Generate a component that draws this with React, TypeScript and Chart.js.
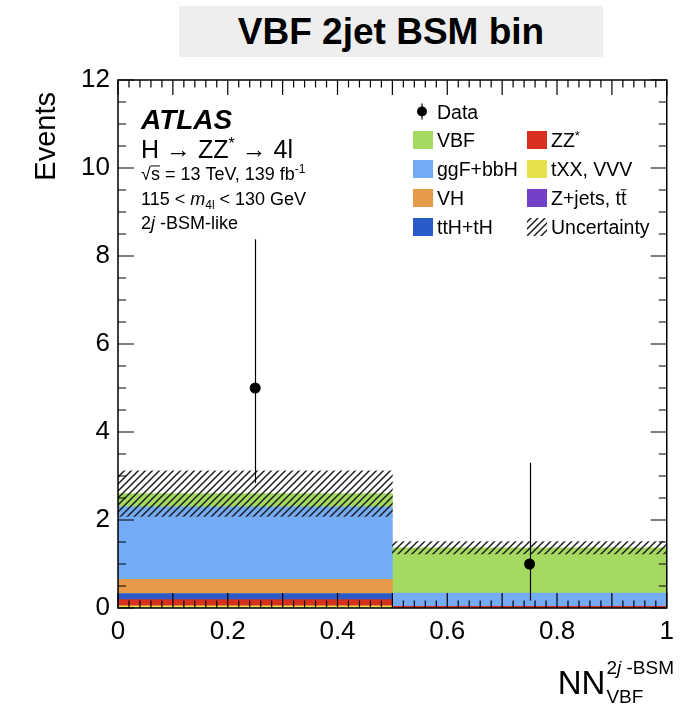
import React, { useEffect, useRef } from 'react';
import { Chart, registerables } from 'chart.js';

Chart.register(...registerables);

const FONT = "'Liberation Sans', Arial, Helvetica, sans-serif";

// Two bins of the NN output
const binLabels = ['0-0.5', '0.5-1'];
const binCenters = [0.25, 0.75];

// Expected yields per bin, listed from the bottom of the stack upwards
const zjetsYield = [0.0, 0.0];
const txxYield = [0.05, 0.0];
const zzYield = [0.14, 0.04];
const tthYield = [0.14, 0.0];
const vhYield = [0.32, 0.0];
const ggfYield = [1.65, 0.3];
const vbfYield = [0.3, 1.03];
// Total uncertainty on the expectation
const totalUnc = [0.52, 0.14];

// Observed events and their Poisson intervals
const dataCounts = [5, 1];
const dataLow = [2.84, 0.17];
const dataHigh = [8.38, 3.3];

// Axis ranges and label steps
const xRange = [0, 1];
const yRange = [0, 12];
const xLabelStep = 0.2;
const yLabelStep = 2;

const COLORS = {
  zjets: '#7440c8',
  txx: '#e6e24a',
  zz: '#d7301f',
  tth: '#2a5bc9',
  vh: '#e59b49',
  ggf: '#73abf5',
  vbf: '#a3da5f',
};

type Seg = { t: string; size: number; style?: string; dy?: number; over?: boolean };

function drawRich(ctx: CanvasRenderingContext2D, x: number, y: number, segs: Seg[]) {
  let cx = x;
  for (const s of segs) {
    ctx.font = `${s.style ?? ''} ${s.size}px ${FONT}`;
    const yy = y + (s.dy ?? 0);
    ctx.fillText(s.t, cx, yy);
    const w = ctx.measureText(s.t).width;
    if (s.over) {
      ctx.save();
      ctx.lineWidth = 1;
      ctx.beginPath();
      ctx.moveTo(cx, yy - s.size * 0.78);
      ctx.lineTo(cx + w, yy - s.size * 0.78);
      ctx.stroke();
      ctx.restore();
    }
    cx += w;
  }
  return cx;
}

function makeHatch(): CanvasPattern | string {
  const size = 7;
  const c = document.createElement('canvas');
  c.width = size;
  c.height = size;
  const g = c.getContext('2d');
  if (!g) return '#555';
  g.strokeStyle = '#1e1e1e';
  g.lineWidth = 1.5;
  g.beginPath();
  g.moveTo(0, size);
  g.lineTo(size, 0);
  g.moveTo(-1, 1);
  g.lineTo(1, -1);
  g.moveTo(size - 1, size + 1);
  g.lineTo(size + 1, size - 1);
  g.stroke();
  return g.createPattern(c, 'repeat') ?? '#555';
}

export default function App() {
  const ref = useRef<HTMLCanvasElement>(null);

  useEffect(() => {
    const canvas = ref.current;
    if (!canvas) return;
    const hatch = makeHatch();

    const stack = [
      { label: 'Z+jets, tt', data: zjetsYield, color: COLORS.zjets },
      { label: 'tXX, VVV', data: txxYield, color: COLORS.txx },
      { label: 'ZZ*', data: zzYield, color: COLORS.zz },
      { label: 'ttH+tH', data: tthYield, color: COLORS.tth },
      { label: 'VH', data: vhYield, color: COLORS.vh },
      { label: 'ggF+bbH', data: ggfYield, color: COLORS.ggf },
      { label: 'VBF', data: vbfYield, color: COLORS.vbf },
    ];
    const totals = binCenters.map((_, i) => stack.reduce((s, d) => s + d.data[i], 0));

    const decor = {
      id: 'atlasDecor',
      afterDatasetsDraw(chart: Chart) {
        const ctx = chart.ctx;
        const xs = chart.scales.x;
        const ys = chart.scales.y;
        const { left, right, top, bottom } = chart.chartArea;
        ctx.save();
        // error bars on the observed points
        ctx.strokeStyle = '#000';
        ctx.lineWidth = 1.2;
        binCenters.forEach((c, i) => {
          const px = Math.round(xs.getPixelForValue(c)) + 0.5;
          ctx.beginPath();
          ctx.moveTo(px, ys.getPixelForValue(dataLow[i]));
          ctx.lineTo(px, ys.getPixelForValue(dataHigh[i]));
          ctx.stroke();
        });
        // frame
        ctx.lineWidth = 1.5;
        ctx.strokeRect(left, top, right - left, bottom - top);
        // inward tick marks on all four sides
        ctx.lineWidth = 1.2;
        ctx.beginPath();
        for (let k = 0; k <= 50; k++) {
          const v = k / 50;
          const px = xs.getPixelForValue(v);
          const len = k % 5 === 0 ? 15 : 7.5;
          ctx.moveTo(px, bottom);
          ctx.lineTo(px, bottom - len);
          ctx.moveTo(px, top);
          ctx.lineTo(px, top + len);
        }
        for (let k = 0; k <= 24; k++) {
          const v = k * 0.5;
          const py = ys.getPixelForValue(v);
          const len = k % 4 === 0 ? 16 : 8;
          ctx.moveTo(left, py);
          ctx.lineTo(left + len, py);
          ctx.moveTo(right, py);
          ctx.lineTo(right - len, py);
        }
        ctx.stroke();
        ctx.restore();
      },
      afterDraw(chart: Chart) {
        const ctx = chart.ctx;
        const { left, right, top, bottom } = chart.chartArea;
        ctx.save();
        ctx.fillStyle = '#000';
        ctx.strokeStyle = '#000';
        ctx.textBaseline = 'alphabetic';
        ctx.textAlign = 'left';

        // experiment label block
        const tx = left + 23;
        drawRich(ctx, tx, top + 49, [{ t: 'ATLAS', size: 28, style: 'italic bold' }]);
        drawRich(ctx, tx, top + 78, [
          { t: 'H \u2192 ZZ', size: 25 },
          { t: '*', size: 16, dy: -9 },
          { t: ' \u2192 4l', size: 25 },
        ]);
        drawRich(ctx, tx, top + 100, [
          { t: '\u221A', size: 18 },
          { t: 's', size: 18, over: true },
          { t: ' = 13 TeV, 139 fb', size: 18 },
          { t: '-1', size: 12, dy: -7 },
        ]);
        drawRich(ctx, tx, top + 125, [
          { t: '115 < ', size: 18 },
          { t: 'm', size: 18, style: 'italic' },
          { t: '4l', size: 12, dy: 4 },
          { t: ' < 130 GeV', size: 18 },
        ]);
        drawRich(ctx, tx, top + 149, [
          { t: '2', size: 18 },
          { t: 'j', size: 18, style: 'italic' },
          { t: ' -BSM-like', size: 18 },
        ]);

        // legend
        const lfs = 19.5;
        const c1 = 413;
        const c2 = 527;
        const rowY = [111.5, 140, 169, 198, 227];
        // data entry
        ctx.lineWidth = 1.2;
        ctx.beginPath();
        ctx.moveTo(c1 + 9, rowY[0] - 8);
        ctx.lineTo(c1 + 9, rowY[0] + 8);
        ctx.stroke();
        ctx.beginPath();
        ctx.arc(c1 + 9, rowY[0], 5, 0, Math.PI * 2);
        ctx.fill();
        drawRich(ctx, c1 + 24, rowY[0] + 7, [{ t: 'Data', size: lfs }]);

        const box = (x: number, y: number, fill: string | CanvasPattern) => {
          ctx.fillStyle = fill;
          ctx.fillRect(x, y - 9, 20, 18);
          ctx.fillStyle = '#000';
        };
        box(c1, rowY[1], COLORS.vbf);
        drawRich(ctx, c1 + 24, rowY[1] + 7, [{ t: 'VBF', size: lfs }]);
        box(c1, rowY[2], COLORS.ggf);
        drawRich(ctx, c1 + 24, rowY[2] + 7, [{ t: 'ggF+bbH', size: lfs }]);
        box(c1, rowY[3], COLORS.vh);
        drawRich(ctx, c1 + 24, rowY[3] + 7, [{ t: 'VH', size: lfs }]);
        box(c1, rowY[4], COLORS.tth);
        drawRich(ctx, c1 + 24, rowY[4] + 7, [{ t: 'ttH+tH', size: lfs }]);

        box(c2, rowY[1], COLORS.zz);
        drawRich(ctx, c2 + 24, rowY[1] + 7, [
          { t: 'ZZ', size: lfs },
          { t: '*', size: 13, dy: -7 },
        ]);
        box(c2, rowY[2], COLORS.txx);
        drawRich(ctx, c2 + 24, rowY[2] + 7, [{ t: 'tXX, VVV', size: lfs }]);
        box(c2, rowY[3], COLORS.zjets);
        drawRich(ctx, c2 + 24, rowY[3] + 7, [
          { t: 'Z+jets, t', size: lfs },
          { t: 't', size: lfs, over: true },
        ]);
        box(c2, rowY[4], hatch);
        drawRich(ctx, c2 + 24, rowY[4] + 7, [{ t: 'Uncertainty', size: lfs }]);

        // y axis title
        ctx.save();
        ctx.translate(55, top + 12);
        ctx.rotate(-Math.PI / 2);
        ctx.textAlign = 'right';
        ctx.font = `29px ${FONT}`;
        ctx.fillText('Events', 0, 0);
        ctx.restore();

        // x axis title
        ctx.font = `33px ${FONT}`;
        const nnW = ctx.measureText('NN').width;
        const nx = right - 109;
        ctx.fillText('NN', nx, bottom + 86);
        drawRich(ctx, nx + nnW + 1, bottom + 66, [
          { t: '2', size: 19 },
          { t: 'j', size: 19, style: 'italic' },
          { t: ' -BSM', size: 19 },
        ]);
        drawRich(ctx, nx + nnW + 1, bottom + 95, [{ t: 'VBF', size: 19 }]);
        ctx.restore();
      },
    };

    // every histogram bar spans its whole bin
    const barCommon = {
      type: 'bar' as const,
      yAxisID: 'y',
      barPercentage: 1,
      categoryPercentage: 1,
      borderWidth: 0,
      grouped: false,
    };

    const binAxis = {
      type: 'category',
      labels: binLabels,
      display: false,
      offset: true,
      stacked: true,
    };

    const chart = new Chart(canvas, {
      type: 'bar',
      data: {
        labels: binLabels,
        datasets: [
          {
            type: 'scatter',
            label: 'Data',
            data: binCenters.map((x, i) => ({ x, y: dataCounts[i] })),
            xAxisID: 'x',
            yAxisID: 'y',
            pointRadius: 5.5,
            pointBackgroundColor: '#000',
            pointBorderColor: '#000',
            pointBorderWidth: 0,
            order: 0,
          } as any,
          {
            ...barCommon,
            xAxisID: 'xu',
            label: 'Uncertainty',
            data: totals.map((t, i) => [t - totalUnc[i], t + totalUnc[i]]),
            backgroundColor: hatch,
            stack: 'unc',
            order: 1,
          } as any,
          ...stack.map((d) => ({
            ...barCommon,
            xAxisID: 'xb',
            label: d.label,
            data: d.data,
            backgroundColor: d.color,
            stack: 'mc',
            order: 2,
          })),
        ],
      },
      options: {
        responsive: false,
        animation: false,
        events: [],
        layout: { padding: { left: 0, top: 80, right: 14, bottom: 0 } },
        plugins: {
          legend: { display: false },
          title: { display: false },
          tooltip: { enabled: false },
        },
        scales: {
          x: {
            type: 'linear',
            position: 'bottom',
            min: xRange[0],
            max: xRange[1],
            offset: false,
            grid: { display: false, drawTicks: false, offset: false },
            border: { display: false },
            ticks: {
              stepSize: xLabelStep,
              autoSkip: false,
              maxRotation: 0,
              padding: 8,
              color: '#000',
              font: { family: FONT, size: 26 },
              callback: (v: number) => String(Math.round(v * 10) / 10),
            },
            afterFit: (s: any) => {
              s.height = 96;
            },
          },
          xb: { ...binAxis },
          xu: { ...binAxis },
          y: {
            type: 'linear',
            position: 'left',
            min: yRange[0],
            max: yRange[1],
            stacked: true,
            grid: { display: false, drawTicks: false },
            border: { display: false },
            ticks: {
              stepSize: yLabelStep,
              padding: 8,
              color: '#000',
              font: { family: FONT, size: 26 },
            },
            afterFit: (s: any) => {
              s.width = 118;
            },
          },
        },
      } as any,
      plugins: [decor as any],
    });

    return () => chart.destroy();
  }, []);

  return (
    <div style={{ position: 'absolute', left: 0, top: 0, width: 682, height: 704, background: '#fff' }}>
      <canvas ref={ref} width={682} height={704} style={{ position: 'absolute', left: 0, top: 0 }} />
      <div
        style={{
          position: 'absolute',
          left: 179,
          top: 6,
          width: 424,
          height: 51,
          background: '#eeeeee',
          display: 'flex',
          alignItems: 'center',
          justifyContent: 'center',
          font: `bold 37px ${FONT}`,
          color: '#000',
          lineHeight: 1,
        }}
      >
        VBF 2jet BSM bin
      </div>
    </div>
  );
}
